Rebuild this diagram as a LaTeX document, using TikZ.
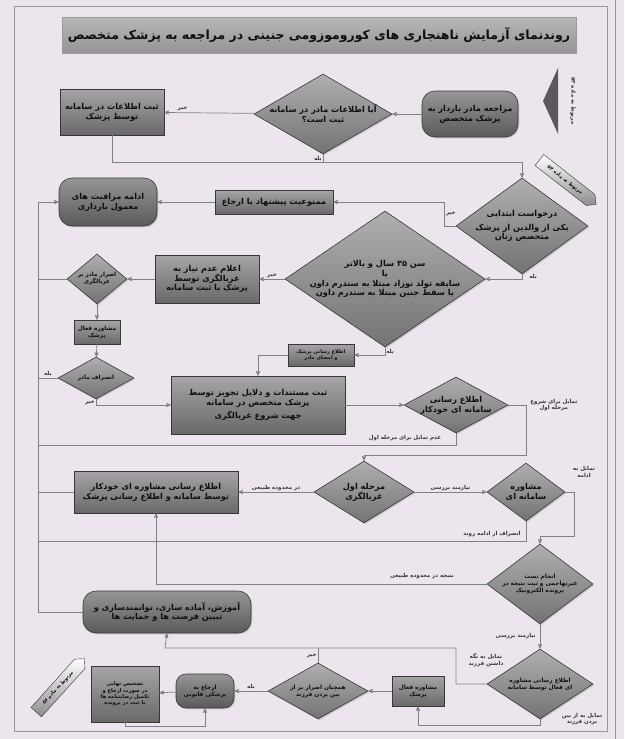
\documentclass[tikz,border=0pt]{standalone}
\usepackage{fontspec}
\newfontfamily\arabicfont[Script=Arabic]{DejaVu Sans}
\TeXXeTstate=1
\usetikzlibrary{arrows,positioning,shapes.geometric,shapes.symbols,shadows}

\definecolor{pagebg}{RGB}{236,229,238}
\definecolor{framecol}{RGB}{150,150,158}
\definecolor{boxtop}{RGB}{165,165,165}
\definecolor{boxbot}{RGB}{105,105,105}
\definecolor{pilltop}{RGB}{150,150,150}
\definecolor{pillbot}{RGB}{90,90,90}
\definecolor{dectop}{RGB}{175,175,175}
\definecolor{decbot}{RGB}{115,115,115}
\definecolor{boxedge}{RGB}{55,55,55}
\definecolor{flowline}{RGB}{128,128,134}
\definecolor{inkcol}{RGB}{15,15,15}

\newcommand{\fa}[1]{\beginR #1\endR}

\begin{document}
\begin{tikzpicture}[x=1pt,y=-1pt,>=stealth',semithick]
  \tikzstyle{every node}=[font=\arabicfont\bfseries\fontsize{8.2}{9.8}\selectfont,text=inkcol]
  \tikzstyle{box}=[draw=boxedge,line width=0.6pt,top color=boxtop,bottom color=boxbot,align=center,inner sep=1pt,
    drop shadow={opacity=0.3,shadow xshift=1.3pt,shadow yshift=-1.3pt}]
  \tikzstyle{pill}=[box,rounded corners=13pt,top color=pilltop,bottom color=pillbot]
  \tikzstyle{decision}=[box,diamond,inner xsep=-80pt,inner ysep=-30pt,top color=dectop,bottom color=decbot]
  \tikzstyle{tiny}=[font=\arabicfont\bfseries\fontsize{5.8}{7}\selectfont]
  \tikzstyle{tag}=[font=\arabicfont\bfseries\fontsize{5.5}{6.5}\selectfont,inner sep=1pt,text=black!80,align=center]
  \tikzstyle{marker}=[signal,signal to=east,draw=boxedge,line width=0.4pt,top color=white,bottom color=black!45,
    font=\arabicfont\bfseries\fontsize{5}{6}\selectfont,inner sep=2pt]
  \tikzstyle{flow}=[->,draw=flowline,line width=0.7pt]
  \tikzstyle{link}=[draw=flowline,line width=0.7pt]

  % page
  \fill[pagebg] (0,0) rectangle (624,739);
  \useasboundingbox (0,0) rectangle (624,739);
  \draw[framecol,line width=0.8pt] (14,6) rectangle (607,731);
  \draw[framecol,line width=0.5pt] (615,0) -- (615,739);
  \node[draw=black!40,top color=black!28,bottom color=black!42,minimum width=514,minimum height=36,
    font=\arabicfont\bfseries\fontsize{12.5}{14}\selectfont] (title) at (319,35)
    {\fa{روندنمای آزمایش ناهنجاری های کوروموزومی جنینی در مراجعه به پزشک متخصص}};

  % side marks
  \fill[black!65] (543,101) -- (558,68) -- (558,134) -- cycle;
  \node[tag,rotate=-90] (m53) at (573,101) {\fa{مربوط به ماده ۵۳}};
  \node[marker,rotate=-38,minimum width=72,minimum height=14] (m54) at (565,180) {\fa{مربوط به ماده ۵۴}};
  \node[marker,rotate=48,minimum width=72,minimum height=14] (m56) at (58,688) {\fa{مربوط به ماده ۵۶}};

  % row 1
  \node[pill,minimum width=96,minimum height=46] (visit) at (470,114) {\fa{مراجعه مادر باردار به}\\\fa{پزشک متخصص}};
  \node[decision,minimum width=138,minimum height=80] (inreg) at (323,114) {\fa{آیا اطلاعات مادر در سامانه}\\\fa{ثبت است؟}};
  \node[box,minimum width=104,minimum height=46] (reg) at (112,112) {\fa{ثبت اطلاعات در سامانه}\\\fa{توسط پزشک}};

  % row 2
  \node[decision,minimum width=132,minimum height=96] (req) at (522,226) {\fa{درخواست ابتدایی}\\[4pt]\fa{یکی از والدین از پزشک}\\\fa{متخصص زنان}};
  \node[box,minimum width=118,minimum height=24] (ban) at (274,202) {\fa{ممنوعیت پیشنهاد یا ارجاع}};
  \node[pill,minimum width=98,minimum height=48] (routine) at (108,202) {\fa{ادامه مراقبت های}\\\fa{معمول بارداری}};

  % row 3
  \node[decision,minimum width=200,minimum height=136] (age) at (385,279)
    {\fa{سن ۳۵ سال و بالاتر}\\\fa{یا}\\\fa{سابقه تولد نوزاد مبتلا به سندرم داون}\\\fa{یا سقط جنین مبتلا به سندرم داون}};
  \node[box,minimum width=104,minimum height=48] (noneed) at (207,279) {\fa{اعلام عدم نیاز به}\\\fa{غربالگری توسط}\\\fa{پزشک با ثبت سامانه}};
  \node[decision,tiny,minimum width=60,minimum height=50] (insist) at (97,279) {\fa{اصرار مادر بر}\\\fa{غربالگری}};
  \node[box,tiny,minimum width=46,minimum height=24] (talk) at (97,332) {\fa{مشاوره فعال}\\\fa{پزشک}};
  \node[decision,tiny,minimum width=76,minimum height=42] (quit) at (96,378) {\fa{انصراف مادر}};
  \node[box,font=\arabicfont\bfseries\fontsize{5}{6}\selectfont,minimum width=66,minimum height=22] (sign) at (321,355)
    {\fa{اطلاع رسانی پزشک}\\\fa{و امضای مادر}};
  \node[box,minimum width=174,minimum height=58] (doc) at (258,405)
    {\fa{ثبت مستندات و دلایل تجویز توسط}\\\fa{پزشک متخصص در سامانه}\\[4pt]\fa{جهت شروع غربالگری}};
  \node[decision,minimum width=104,minimum height=56] (auto) at (456,405) {\fa{اطلاع رسانی}\\\fa{سامانه ای خودکار}};

  % row 4
  \node[decision,minimum width=100,minimum height=62] (stage) at (364,492) {\fa{مرحله اول}\\\fa{غربالگری}};
  \node[box,minimum width=164,minimum height=42] (advice) at (156,492) {\fa{اطلاع رسانی مشاوره ای خودکار}\\\fa{توسط سامانه و اطلاع رسانی پزشک}};
  \node[decision,minimum width=78,minimum height=58] (sys) at (526,492) {\fa{مشاوره}\\\fa{سامانه ای}};
  \node[decision,tiny,minimum width=106,minimum height=80] (test) at (540,584) {\fa{انجام تست}\\\fa{غیرتهاجمی و ثبت نتیجه در}\\\fa{پرونده الکترونیک}};
  \node[pill,minimum width=168,minimum height=42] (edu) at (167,612) {\fa{آموزش، آماده سازی، توانمندسازی و}\\\fa{تبیین فرصت ها و حمایت ها}};

  % row 5
  \node[decision,tiny,minimum width=106,minimum height=70] (active) at (540,684) {\fa{اطلاع رسانی مشاوره}\\\fa{ای فعال توسط سامانه}};
  \node[box,tiny,minimum width=52,minimum height=30] (talk2) at (418,691) {\fa{مشاوره فعال}\\\fa{پزشک}};
  \node[decision,tiny,minimum width=100,minimum height=56] (still) at (318,691) {\fa{همچنان اصرار بر از}\\\fa{بین بردن فرزند}};
  \node[pill,tiny,rounded corners=10pt,minimum width=58,minimum height=34] (legal) at (205,691) {\fa{ارجاع به}\\\fa{پزشکی قانونی}};
  \node[box,font=\arabicfont\bfseries\fontsize{5.2}{6.4}\selectfont,minimum width=68,minimum height=56] (final) at (125,694)
    {\fa{تشخیص نهایی}\\\fa{در صورت ارجاع و}\\\fa{تکمیل رضایتنامه ها}\\\fa{با ثبت در پرونده}};

  % rails
  \coordinate (rail) at (38,0);
  \coordinate (j1) at (522,162);

  % connectors
  \draw[flow] (visit) -- (inreg);
  \draw[flow] (inreg) -- node[tag,above,pos=0.8] (no1) {\fa{خیر}} (reg);
  \draw[link] (reg.south) |- (j1);
  \draw[link] (inreg.south) -- node[tag,left,pos=0.6] (yes1) {\fa{بله}} (inreg.south |- j1);
  \draw[flow] (j1) -- (req.north);

  \draw[flow] (req.west) -- ++(-11,0) |- node[tag,pos=0.25,right] (no2) {\fa{خیر}} (ban.east);
  \draw[flow] (ban) -- (routine);
  \draw[flow] (req.south) |- node[tag,pos=0.3,right=6pt] (yes2) {\fa{بله}} (age.east);
  \draw[flow] (age) -- node[tag,above] (no3) {\fa{خیر}} (noneed);
  \draw[flow] (noneed) -- (insist);
  \draw[link] (insist.west) -- (insist.west -| rail);
  \draw[flow] (insist) -- (talk);
  \draw[flow] (talk) -- (quit);
  \draw[link] (quit.west) -- node[tag,above] (yes4) {\fa{بله}} (quit.west -| rail);
  \draw[flow] (quit.south) |- node[tag,pos=0.3,left] (no4) {\fa{خیر}} (doc.west);
  \draw[flow] (age.south) |- node[tag,pos=0.3,right] (yes3) {\fa{بله}} (sign.east);
  \draw[flow] (sign.west) -| (doc.north);
  \draw[flow] (doc) -- (auto);
  \draw[flow] (auto.east) -- (526,405) node[tag,right=3pt] (go1) {\fa{تمایل برای شروع}\\\fa{مرحله اول}} |- (364,455) -- (stage.north);
  \draw[link] (auto.south) |- (38,445);
  \node[tag] (stop1) at (405,438) {\fa{عدم تمایل برای مرحله اول}};

  \draw[flow] (stage) -- node[tag,above] (normal1) {\fa{در محدوده طبیعی}} (advice);
  \draw[flow] (stage) -- node[tag,above] (check1) {\fa{نیازمند بررسی}} (sys);
  \draw[link] (advice.west) -- (advice.west -| rail);
  \draw[flow] (sys.east) -- (574,492) |- (540,536) -- (test.north);
  \node[tag] (go2) at (584,472) {\fa{تمایل به}\\\fa{ادامه}};
  \draw[link] (sys.south) |- (38,541);
  \node[tag] (stop2) at (492,534) {\fa{انصراف از ادامه روند}};
  \draw[flow] (test.west) -| (advice.south);
  \node[tag] (normal2) at (422,576) {\fa{نتیجه در محدوده طبیعی}};
  \draw[flow] (edu.west) -- (edu.west -| rail) |- (routine.west);

  \draw[flow] (test) -- node[tag,left=3pt] (check2) {\fa{نیازمند بررسی}} (active);
  \draw[flow] (active.west) -- (456,684) |- (165,648) -- (edu.south);
  \node[tag] (keep) at (486,660) {\fa{تمایل به نگه}\\\fa{داشتن فرزند}};
  \draw[link] (still.north) -- node[tag,left] (no5) {\fa{خیر}} (still.north |- 0,648);
  \draw[flow] (active.south) -- ++(0,6) -| (talk2.south);
  \node[tag] (end) at (582,719) {\fa{تمایل به از بین}\\\fa{بردن فرزند}};
  \draw[flow] (talk2) -- (still);
  \draw[flow] (still) -- node[tag,above] (yes5) {\fa{بله}} (legal);
  \draw[flow] (legal) -- (final);
  \draw[flow] (final.south) -- ++(0,4) -| (legal.south);
\end{tikzpicture}
\end{document}
